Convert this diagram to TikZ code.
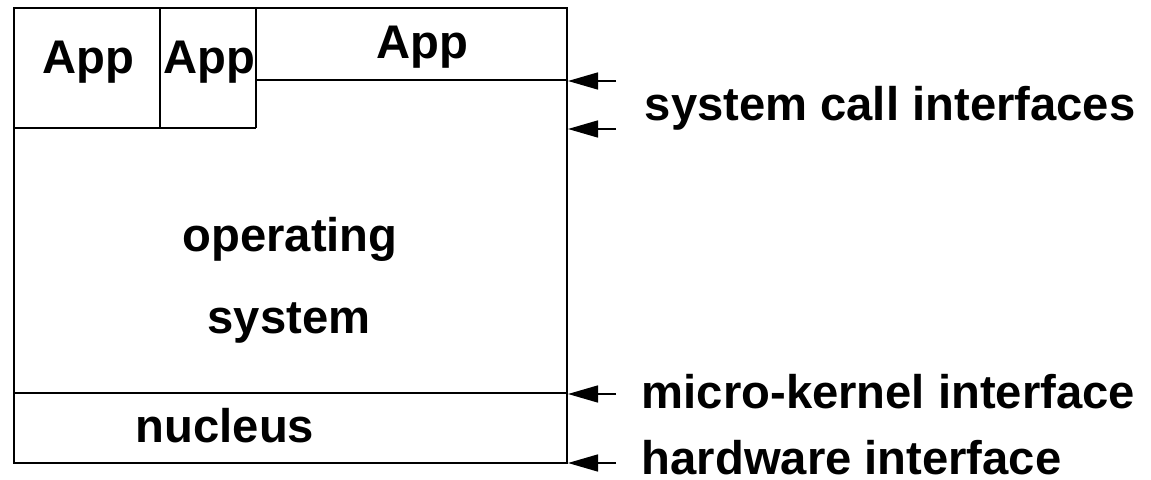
\documentclass[tikz,border=0pt]{standalone}
\usepackage{fontspec}
\setmainfont{Liberation Sans}
\usetikzlibrary{arrows.meta}

\tikzset{
	label/.style={inner sep=0pt, anchor=base, font=\fontsize{23.6}{28}\selectfont\bfseries},
	iface/.style={label, anchor=base west},
	pointer/.style={-{Triangle[length=15pt, width=8.5pt]}, line width=0.75pt}
}

\begin{document}
\begin{tikzpicture}[x=0.5pt, y=-0.5pt, line width=0.75pt]

		\useasboundingbox (0,0) rectangle (1151,480);

		% Ramka calego systemu
		\draw (14,8) rectangle (567,463);

		% Aplikacje
		\draw (14,128) -- (256,128);
		\draw (160,8) -- (160,128);
		\draw (256,8) -- (256,128);
		\draw (256,80) -- (567,80);
		\node[label] (app1) at (88,74) {App};
		\node[label] (app2) at (209,74) {App};
		\node[label] (app3) at (422,59) {App};

		% System operacyjny
		\node[label] (os1) at (290,252) {operating};
		\node[label] (os2) at (289,334) {system};

		% Jadro
		\draw (14,393) -- (567,393);
		\node[label] (nucleus) at (225,443) {nucleus};

		% Strzalki interfejsow
		\coordinate (sysa) at (568,81);
		\coordinate (sysb) at (568,129);
		\coordinate (micro) at (568,394);
		\coordinate (hw) at (568,463);
		\foreach \p in {sysa, sysb, micro, hw}
			\draw[pointer] ([xshift=24pt]\p) -- (\p);

		% Opisy
		\node[iface] (sysl) at (644,121) {system call interfaces};
		\node[iface] (microl) at (641,409) {micro-kernel interface};
		\node[iface, text depth=0pt] (hwl) at (641,474) {hardware interface};

	\end{tikzpicture}
\end{document}
